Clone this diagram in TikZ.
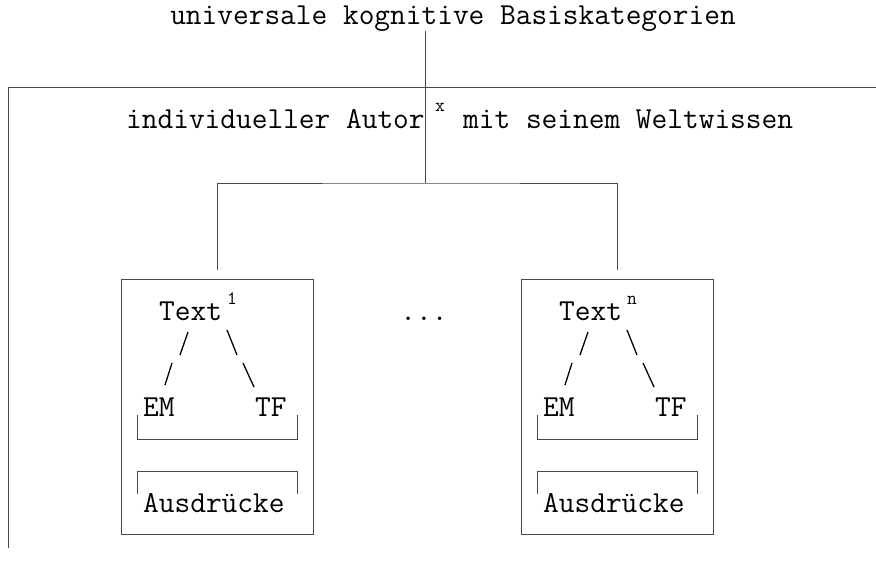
\documentclass[tikz,border=0pt]{standalone}
\usepackage{fontspec}
\tikzset{
  txt/.style={inner sep=0pt, font=\fontsize{30.5}{36}\selectfont\ttfamily, text=black},
  sup/.style={inner sep=0pt, font=\fontsize{19}{22}\selectfont\ttfamily, text=black, anchor=base},
  rule/.style={draw=black!72, line width=0.9pt},
  branch/.style={draw=black, line width=1.3pt},
  frame/.style={rule, minimum width=192pt, minimum height=255pt, inner sep=0pt}
}
\begin{document}
\begin{tikzpicture}[x=1pt,y=-1pt]
\useasboundingbox (0,0) rectangle (876,562);

% heading and the author frame
\node[txt, anchor=base] (title) at (453,24) {universale kognitive Basiskategorien};
\node[txt, anchor=base west] (author) at (126,128) {individueller Autor};
\node[sup] (authorx) at (440,111) {x};
\node[txt, anchor=base west] (world) at (463,128) {mit seinem Weltwissen};

\coordinate (stem) at (425,31);
\coordinate (hub) at (425,183);
\coordinate (frameR) at (876,87);
\coordinate (frameTL) at (8,87);
\coordinate (frameBL) at (8,548);
\draw[rule] (frameR) -- (frameTL) -- (frameBL);
\draw[rule] (stem) -- (hub);

% the texts of the author
\foreach \k/\s/\dx in {1/1/0, 2/n/400}{
  \node[frame] (box\k) at (217+\dx,406.5) {};
  \node[txt, anchor=base west] (text\k) at (159+\dx,320) {Text};
  \node[sup] (textsup\k) at (232+\dx,304) {\s};
  \node[txt, anchor=base west] (em\k) at (143+\dx,416) {EM};
  \node[txt, anchor=base west] (tf\k) at (255+\dx,416) {TF};
  \node[txt, anchor=base west] (ausd\k) at (143+\dx,512) {Ausdrücke};
  % tree branches
  \draw[branch] (188+\dx,332) -- (180+\dx,355);
  \draw[branch] (172+\dx,363) -- (165+\dx,385);
  \draw[branch] (227+\dx,330) -- (237+\dx,355);
  \draw[branch] (243+\dx,363) -- (254+\dx,387);
  % brackets
  \draw[rule] (137+\dx,415) |- (297+\dx,439) -- (297+\dx,415);
  \draw[rule] (137+\dx,494) |- (297+\dx,471) -- (297+\dx,494);
}
\draw[rule] ([yshift=9pt]box1.north) |- (hub) -| ([yshift=9pt]box2.north);

\node[txt, anchor=base] (dots) at (424,320) {...};
\end{tikzpicture}
\end{document}
